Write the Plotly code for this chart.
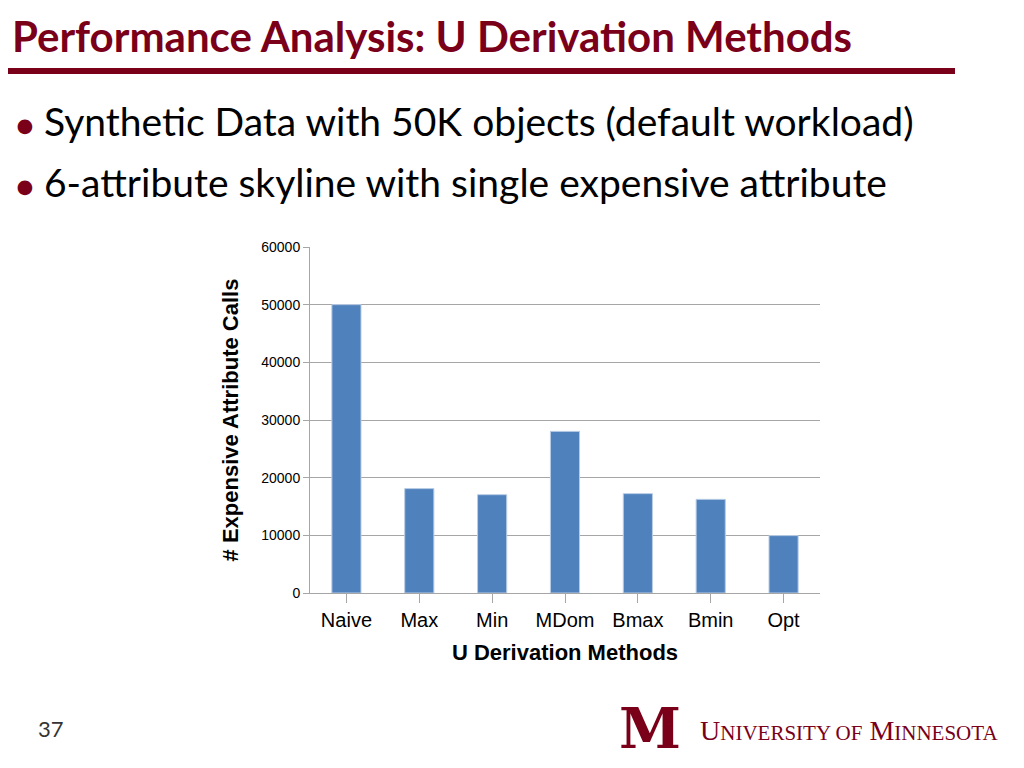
import plotly.graph_objects as go

methods = ["Naive", "Max", "Min", "MDom", "Bmax", "Bmin", "Opt"]
calls = [50000, 18100, 17050, 28030, 17230, 16240, 9950]
y_ticks = [0, 10000, 20000, 30000, 40000, 50000, 60000]

OFF = 8  # page body margin offset
W, H = 1024, 768
L, R, T, B = 310 - OFF, 820 - OFF, 247 - OFF, 593 - OFF
fig = go.Figure(go.Bar(x=methods, y=calls, marker=dict(color="#4F81BD", line=dict(color="#B9CDE5", width=1)), width=0.4))
fig.update_layout(
    width=W, height=H, paper_bgcolor="white", plot_bgcolor="white", showlegend=False,
    margin=dict(l=L, r=W - R, t=T, b=H - B),
    font=dict(family="Liberation Sans, Arial", color="black"),
    xaxis=dict(showline=True, linecolor="#A6A6A6", ticks="outside", tickcolor="#A6A6A6", ticklen=9,
               tickfont=dict(size=20), title=dict(text="<b>U Derivation Methods</b>", font=dict(size=22), standoff=14)),
    yaxis=dict(range=[0, 60000], tickvals=y_ticks, showline=True, linecolor="#A6A6A6", ticks="outside",
               tickcolor="#A6A6A6", ticklen=6, gridcolor="#A6A6A6", tickfont=dict(size=14), tickformat="d",
               title=dict(text="<b># Expensive Attribute Calls</b>", font=dict(size=22), standoff=16)),
)

def P(x, y):
    return x - OFF, y - OFF

ann = []
ann.append((10, 36, "left", "<b>Performance Analysis: U Derivation Methods</b>",
            dict(family="Lato, Open Sans", size=42, color="#7A0019")))
for yy, txt in [(121, "Synthetic Data with 50K objects (default workload)"), (182, "6-attribute skyline with single expensive attribute")]:
    ann.append((14, yy, "left", "<span style='color:#7A0019;font-size:30px'>●</span> " + txt,
                dict(family="Lato, Open Sans", size=39, color="black")))
ann.append((36, 728, "left", "37", dict(family="Lato", size=22, color="#333333")))
ann.append((650, 728, "center", "<b>M</b>", dict(family="DejaVu Serif", size=56, color="#7A0019")))
ann.append((698, 730, "left", "U<span style='font-size:21px'>NIVERSITY OF</span> M<span style='font-size:21px'>INNESOTA</span>",
            dict(family="Liberation Serif", size=28, color="#7A0019")))
for x, y, anc, txt, f in ann:
    px, py = P(x, y)
    fig.add_annotation(x=(px - L) / (R - L), y=(B - py) / (B - T), xref="paper", yref="paper",
                       xanchor=anc, yanchor="middle", showarrow=False, text=txt, font=f)
x0, y0 = P(0, 71); x1, _ = P(955, 71)
fig.add_shape(type="line", xref="paper", yref="paper", x0=(x0 - L) / (R - L), x1=(x1 - L) / (R - L),
              y0=(B - y0) / (B - T), y1=(B - y0) / (B - T), line=dict(color="#7A0019", width=6))
fig.write_html("out.html")
